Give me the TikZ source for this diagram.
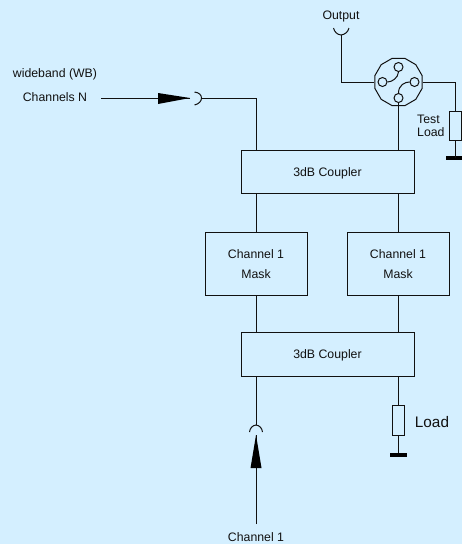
\documentclass[tikz,border=0pt]{standalone}
\usepackage{fontspec}
\usetikzlibrary{shapes.geometric}
\setmainfont{Liberation Sans}
\definecolor{bgblue}{HTML}{D4EFFF}
\definecolor{ink}{HTML}{111111}
\tikzset{
  x=1pt,y=-1pt,
  wire/.style={draw=ink,line width=1pt},
  blockbox/.style={draw=ink,line width=1pt,fill=none,inner sep=0pt,align=center},
  lab/.style={inner sep=0pt,text=ink,font=\fontsize{12.3}{14}\selectfont,align=center},
  biglab/.style={inner sep=0pt,text=ink,font=\fontsize{15.3}{18}\selectfont},
  resbox/.style={draw=ink,line width=1pt,inner sep=0pt,minimum width=12pt,minimum height=29pt},
  gnd/.style={fill=black,inner sep=0pt,minimum width=17pt,minimum height=3.5pt},
  port/.style={draw=ink,line width=1pt,circle,inner sep=0pt,minimum size=9pt},
  tip/.style={fill=black,draw=none}
}
\begin{document}
\begin{tikzpicture}
\useasboundingbox (0,0) rectangle (462,544);
\fill[bgblue] (0,0) rectangle (462,544);
% blocks
\node[blockbox,minimum width=173pt,minimum height=43pt] (c1) at (327.5,171.5) {};
\node[lab] (c1t) at (327.5,173.5) {3dB Coupler};
\node[blockbox,minimum width=173pt,minimum height=44pt] (c2) at (327.5,354) {};
\node[lab] (c2t) at (327.5,355.5) {3dB Coupler};
\node[blockbox,minimum width=102pt,minimum height=63pt] (m1) at (256,263.5) {};
\node[blockbox,minimum width=102pt,minimum height=63pt] (m2) at (398,263.5) {};
\node[lab] (m1a) at (256,254) {Channel 1};
\node[lab] (m1b) at (256,274) {Mask};
\node[lab] (m2a) at (398,254) {Channel 1};
\node[lab] (m2b) at (398,274) {Mask};
% texts
\node[lab] (wb) at (55,74.5) {wideband (WB)};
\node[lab] (chn) at (55,97) {Channels N};
\node[lab] (out) at (341,16.5) {Output};
\node[lab,align=left,anchor=west] (tl) at (417,125.5) {Test\\[-1pt]Load};
\node[biglab] (lo) at (432,422) {Load};
\node[lab] (ch1) at (256,537) {Channel 1};
% coordinates
\coordinate (wbstart) at (101,98);
\coordinate (wbtip) at (190,98);
\coordinate (wbc) at (201.5,98);
\coordinate (wbturn) at (256,98);
\coordinate (ch1start) at (256,524);
\coordinate (ch1tip) at (256,435);
\coordinate (ch1c) at (256,425);
\coordinate (outc) at (341,35);
\coordinate (outturn) at (341,82);
\coordinate (rturn) at (455,82);
% switch
\node[draw=ink,line width=1pt,regular polygon,regular polygon sides=12,minimum size=49pt,inner sep=0pt] (sw) at (398.5,82) {};
\node[port] (pt) at (398.5,67) {};
\node[port] (pl) at (382.5,82) {};
\node[port] (pr) at (414.5,82) {};
\node[port] (pb) at (398.5,98) {};
\draw[wire] (pl.east) .. controls (392,82) and (398,78) .. (pt.south);
\draw[wire] (pr.west) .. controls (405,82) and (398.5,85) .. (pb.north);
% resistors
\node[resbox] (r1) at (455,125.5) {};
\node[gnd] (g1) at (454.5,158) {};
\node[resbox,minimum height=30pt] (r2) at (398,420.5) {};
\node[gnd] (g2) at (398,455) {};
% wires
\draw[wire] (wbstart) -- (wbtip);
\draw[wire] (wbc) -- (wbturn) -- (wbturn |- c1.north);
\draw[wire] (194.5,92) .. controls (199,92.5) and (201.5,95) .. (wbc) .. controls (201.5,101) and (199,104) .. (194.5,105);
\fill[tip] (wbtip) -- (158,93) -- (158,104) -- cycle;
\draw[wire] (ch1start) -- (ch1tip);
\fill[tip] (ch1tip) -- (250.5,468) -- (261.5,468) -- cycle;
\draw[wire] (249.5,432) .. controls (250,428) and (252.5,425.5) .. (ch1c) .. controls (259.5,425.5) and (262,428) .. (262.5,432);
\draw[wire] (ch1c) -- (ch1c |- c2.south);
\draw[wire] (m1.north) -- (m1.north |- c1.south);
\draw[wire] (m1.south) -- (m1.south |- c2.north);
\draw[wire] (m2.north) -- (m2.north |- c1.south);
\draw[wire] (m2.south) -- (m2.south |- c2.north);
\draw[wire] (pb.south) -- (pb.south |- c1.north);
\draw[wire] (outc) -- (outturn) -- (sw.west |- outturn);
\draw[wire] (333.5,28) .. controls (334.5,32) and (337,34.5) .. (outc) .. controls (345,34.5) and (348,32) .. (349,28);
\draw[wire] (sw.east |- rturn) -- (rturn) -- (r1.north);
\draw[wire] (r1.south) -- (g1.center -| r1.south);
\draw[wire] (r2.north) -- (r2.north |- c2.south);
\draw[wire] (r2.south) -- (g2);
\end{tikzpicture}
\end{document}
